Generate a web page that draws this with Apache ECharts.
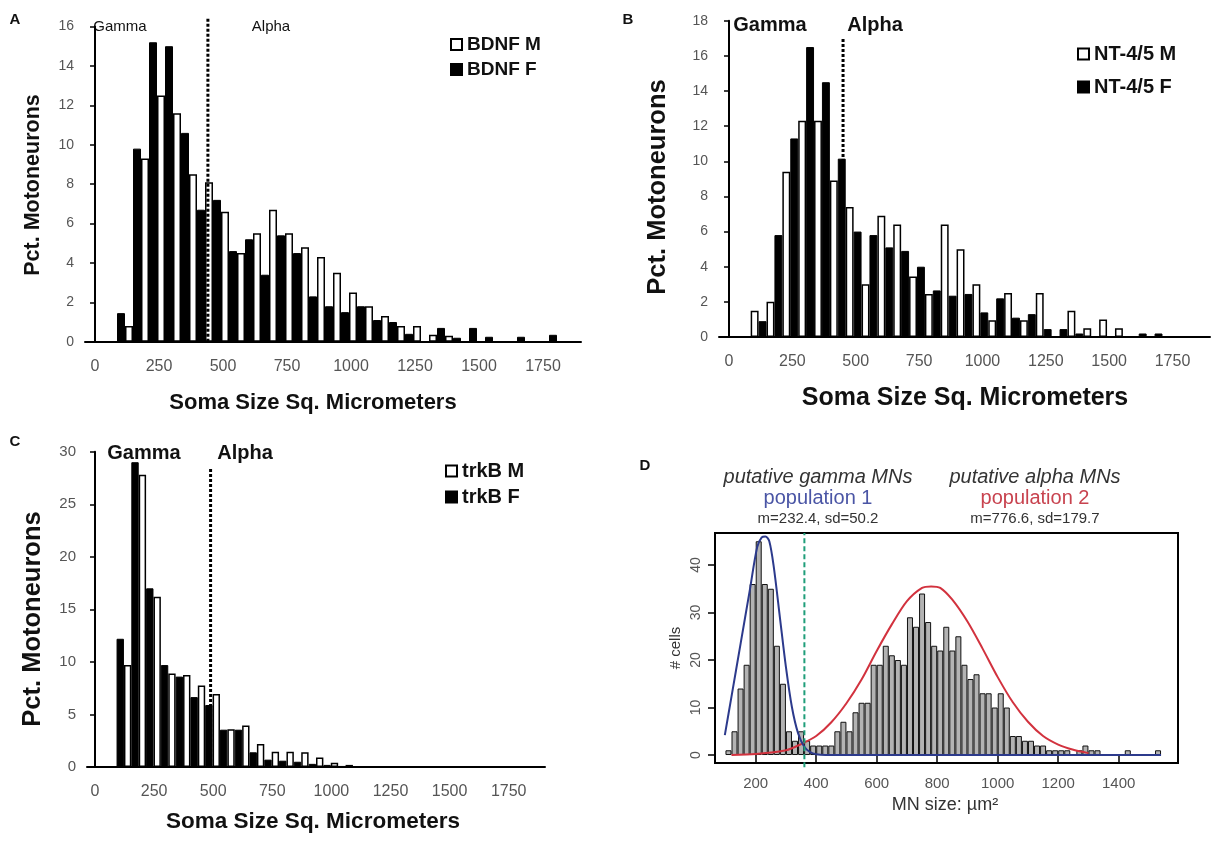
<!DOCTYPE html>
<html>
<head>
<meta charset="utf-8">
<title>Motoneuron soma size histograms</title>
<script src="https://cdn.jsdelivr.net/npm/echarts@6.0.0/dist/echarts.min.js"></script>
<style>
  html, body { margin: 0; padding: 0; background: #fff; }
  #chart { width: 1213px; height: 841px; }
</style>
</head>
<body>
<div id="chart"></div>
<script>
// ---- data ----
// panels A-C: 31 bins each, pairs of bars (M / F), values in percent
const binNames = ['b0','b1','b2','b3','b4','b5','b6','b7','b8','b9','b10','b11','b12','b13','b14','b15',
  'b16','b17','b18','b19','b20','b21','b22','b23','b24','b25','b26','b27','b28','b29','b30'];
const sizeTicks = [0, 250, 500, 750, 1000, 1250, 1500, 1750];

const bdnfF = [0,0,1.45,9.8,15.2,15.0,10.6,6.7,7.2,4.6,5.2,3.4,5.4,4.5,2.3,1.8,1.5,1.8,1.1,1.0,0.4,0,0.7,0.2,0.7,0.25,0,0.25,0,0.35,0];
const bdnfM = [0,0,0.8,9.3,12.5,11.6,8.5,8.1,6.6,4.5,5.5,6.7,5.5,4.8,4.3,3.5,2.5,1.8,1.3,0.8,0.8,0.35,0.3,0,0,0,0,0,0,0,0];

const ntM = [0,0,1.5,2.0,9.4,12.3,12.3,8.9,7.4,3.0,6.9,6.4,3.45,2.45,6.4,5.0,3.0,0.95,2.5,0.95,2.5,0,1.5,0.5,1.0,0.5,0,0,0,0,0];
const ntF = [0,0,0.9,5.8,11.3,16.5,14.5,10.15,6.0,5.8,5.1,4.9,4.0,2.65,2.35,2.45,1.4,2.2,1.1,1.3,0.45,0.45,0.2,0,0,0,0.2,0.2,0,0,0];

const trkF = [0,0,12.2,29.0,17.0,9.7,8.6,6.65,5.9,3.55,3.55,1.4,0.7,0.6,0.5,0.3,0.2,0.1,0,0,0,0,0,0,0,0,0,0,0,0,0];
const trkM = [0,0,9.7,27.8,16.2,8.9,8.75,7.75,6.95,3.6,3.95,2.2,1.45,1.45,1.4,0.9,0.4,0.2,0,0,0,0,0,0,0,0,0,0,0,0,0];

// gamma / alpha cut (soma size) and how high the dotted line is drawn
const cutA = [441, 16.4];
const cutB = [450, 17.0];
const cutC = [489, 28.4];

// panel D: 20 um^2 bins starting at 100
const dBinStart = 100, dBinWidth = 20;
const dCounts = [1,5,14,19,36,45,36,35,23,15, 5,3,5,3,2,2,2,2,5,7,
  5,9,11,11,19,19,23,21,20,19, 29,27,34,28,23,22,27,22,25,19,
  16,17,13,13,10,13,10,4,4,3, 3,2,2,1,1,1,1,0,1,2,
  1,1,0,0,0,0,1,0,0,0, 0,1];
const dTicksX = [200, 400, 600, 800, 1000, 1200, 1400];
const dTicksY = [0, 10, 20, 30, 40];
const gammaFit = [[98,4.2],[120,12.3],[150,23.4],[180,34.5],[205,43.8],[220,45.8],[232,46],[245,45],
  [260,39.5],[280,29],[300,18.5],[320,10],[340,4.6],[360,1.8],[380,0.6],[400,0.15],[430,0],[1540,0]];
const alphaFit = [[120,0],[200,0.2],[300,1.0],[350,2.3],[400,4],[450,6.9],[500,10.9],[550,15.9],[600,21.9],
  [650,27.5],[700,32.4],[750,35.2],[780,35.5],[810,35.2],[850,32.7],[900,28.1],[950,22.4],[1000,16.4],
  [1050,11.1],[1100,7.0],[1150,4.0],[1200,2.2],[1250,1.1],[1300,0.4]];
const dCut = 361;

// ---- chart ----
const FONT = "'Liberation Sans', Arial, sans-serif";
const grey = '#555';
const plain = v => String(v);

function catAxis(grid, tickEvery) {
  return {
    type: 'category', gridIndex: grid, data: binNames, boundaryGap: true,
    axisLine: { lineStyle: { color: '#000', width: 2 } },
    axisTick: { interval: tickEvery, length: 5, lineStyle: { color: '#000', width: 1.5 } },
    axisLabel: { show: false }
  };
}
function labelAxis(grid, min, max, margin) {
  return {
    type: 'value', gridIndex: grid, position: 'bottom', min: min, max: max,
    axisLine: { show: false }, axisTick: { show: false }, splitLine: { show: false },
    axisLabel: { customValues: sizeTicks, formatter: plain, color: grey, fontSize: 16, fontFamily: FONT, margin: margin }
  };
}
function pctAxis(grid, max, step, size) {
  return {
    type: 'value', gridIndex: grid, min: 0, max: max, interval: step,
    axisLine: { show: true, lineStyle: { color: '#000', width: 2 } },
    axisTick: { show: true, length: 5, lineStyle: { color: '#000', width: 1.5 } },
    splitLine: { show: false },
    axisLabel: { color: grey, fontSize: size, fontFamily: FONT, margin: 11 }
  };
}
function barPair(name1, data1, name2, data2, xi, yi) {
  const style = name => name.endsWith('F')
    ? { color: '#000', borderColor: '#000', borderWidth: 1 }
    : { color: '#fff', borderColor: '#000', borderWidth: 1.5 };
  return [name1, name2].map((n, k) => ({
    name: n, type: 'bar', xAxisIndex: xi, yAxisIndex: yi,
    data: k === 0 ? data1 : data2,
    barGap: '0%', barCategoryGap: '0%',
    itemStyle: style(n), silent: true
  }));
}
function cutLine(cut, xi, yi) {
  return {
    type: 'line', xAxisIndex: xi, yAxisIndex: yi, data: [[cut[0], 0], [cut[0], cut[1]]],
    symbol: 'none', clip: false, silent: true, z: 5,
    lineStyle: { color: '#000', width: 3, type: [3, 2] }
  };
}
function legendAt(names, left, top, size, gap) {
  return {
    data: names, left: left, top: top, orient: 'vertical', icon: 'rect',
    itemWidth: 11, itemHeight: 11, itemGap: gap, padding: 0, selectedMode: false,
    textStyle: { fontFamily: FONT, fontWeight: 'bold', fontSize: size, color: '#111' }
  };
}
function txt(x, y, s, size, opts) {
  opts = opts || {};
  return {
    type: 'text', x: x, y: y, rotation: opts.rot || 0, silent: true,
    style: {
      text: s, x: 0, y: 0, align: 'center', verticalAlign: 'middle',
      font: (opts.italic ? 'italic ' : '') + (opts.bold ? 'bold ' : '') + size + 'px ' + FONT,
      fill: opts.color || '#111'
    }
  };
}

const chart = echarts.init(document.getElementById('chart'), null, { renderer: 'canvas' });

const dBars = dCounts.map((c, i) => [dBinStart + i * dBinWidth + dBinWidth / 2, c]);

chart.setOption({
  animation: false,
  backgroundColor: '#fff',
  textStyle: { fontFamily: FONT },
  grid: [
    { left: 85, top: 26.5, width: 496, height: 315.2 },
    { left: 719, top: 20.7, width: 491, height: 316.3 },
    { left: 87, top: 451.7, width: 458, height: 315.3 },
    { left: 715, top: 533, width: 463, height: 230, show: true, borderColor: '#000', borderWidth: 2 }
  ],
  xAxis: [
    catAxis(0, 1), labelAxis(0, -39.1, 1898.4, 17),
    catAxis(1, 0), labelAxis(1, -39.5, 1898, 17),
    catAxis(2, 0), labelAxis(2, -33.8, 1903.6, 17),
    {
      type: 'value', gridIndex: 3, min: 65.5, max: 1596,
      axisLine: { show: false }, splitLine: { show: false },
      axisTick: { customValues: dTicksX, length: 7, lineStyle: { color: '#000', width: 1.5 } },
      axisLabel: { customValues: dTicksX, formatter: plain, color: grey, fontSize: 15, fontFamily: FONT, margin: 13 }
    }
  ],
  yAxis: [
    pctAxis(0, 16, 2, 14),
    pctAxis(1, 18, 2, 14),
    pctAxis(2, 30, 5, 15),
    {
      type: 'value', gridIndex: 3, min: -1.68, max: 46.74,
      axisLine: { show: false }, splitLine: { show: false },
      axisTick: { customValues: dTicksY, length: 7, lineStyle: { color: '#000', width: 1.5 } },
      axisLabel: { customValues: dTicksY, formatter: plain, rotate: 90, color: grey, fontSize: 14, fontFamily: FONT, margin: 12 }
    }
  ],
  legend: [
    legendAt(['BDNF M', 'BDNF F'], 450, 35, 19, 6),
    legendAt(['NT-4/5 M', 'NT-4/5 F'], 1077, 44, 20, 13),
    legendAt(['trkB M', 'trkB F'], 445, 461, 20, 6)
  ],
  series: [
    ...barPair('BDNF F', bdnfF, 'BDNF M', bdnfM, 0, 0),
    cutLine(cutA, 1, 0),
    ...barPair('NT-4/5 M', ntM, 'NT-4/5 F', ntF, 2, 1),
    cutLine(cutB, 3, 1),
    ...barPair('trkB F', trkF, 'trkB M', trkM, 4, 2),
    cutLine(cutC, 5, 2),
    {
      type: 'bar', xAxisIndex: 6, yAxisIndex: 3, data: dBars, barWidth: 6, silent: true,
      itemStyle: { color: '#b3b3b3', borderColor: '#111', borderWidth: 1 }
    },
    {
      type: 'line', xAxisIndex: 6, yAxisIndex: 3, data: [[dCut, -2.6], [dCut, 46.74]],
      symbol: 'none', clip: false, silent: true, z: 6,
      lineStyle: { color: '#1f9e7a', width: 2, type: [5, 3] }
    },
    {
      type: 'line', xAxisIndex: 6, yAxisIndex: 3, data: alphaFit, smooth: 0.3,
      symbol: 'none', silent: true, z: 4, lineStyle: { color: '#d2323e', width: 2 }
    },
    {
      type: 'line', xAxisIndex: 6, yAxisIndex: 3, data: gammaFit, smooth: 0.3,
      symbol: 'none', silent: true, z: 5, lineStyle: { color: '#2c3a8c', width: 2 }
    }
  ],
  graphic: [
    txt(15, 20, 'A', 15, { bold: true }),
    txt(628, 20, 'B', 15, { bold: true }),
    txt(15, 442, 'C', 15, { bold: true }),
    txt(645, 466, 'D', 15, { bold: true }),

    txt(120, 27, 'Gamma', 15),
    txt(271, 27, 'Alpha', 15),
    txt(770, 25, 'Gamma', 20, { bold: true }),
    txt(875, 25, 'Alpha', 20, { bold: true }),
    txt(144, 453, 'Gamma', 20, { bold: true }),
    txt(245, 453, 'Alpha', 20, { bold: true }),

    txt(33, 185, 'Pct. Motoneurons', 21.5, { bold: true, rot: Math.PI / 2 }),
    txt(313, 403, 'Soma Size Sq. Micrometers', 22, { bold: true }),
    txt(658, 187, 'Pct. Motoneurons', 25.5, { bold: true, rot: Math.PI / 2 }),
    txt(965, 398, 'Soma Size Sq. Micrometers', 25, { bold: true }),
    txt(33, 619, 'Pct. Motoneurons', 25.5, { bold: true, rot: Math.PI / 2 }),
    txt(313, 822, 'Soma Size Sq. Micrometers', 22.5, { bold: true }),

    txt(818, 477, 'putative gamma MNs', 20, { italic: true, color: '#333' }),
    txt(818, 498, 'population 1', 20, { color: '#4a55a5' }),
    txt(818, 519, 'm=232.4, sd=50.2', 15, { color: '#333' }),
    txt(1035, 477, 'putative alpha MNs', 20, { italic: true, color: '#333' }),
    txt(1035, 498, 'population 2', 20, { color: '#c8434f' }),
    txt(1035, 519, 'm=776.6, sd=179.7', 15, { color: '#333' }),
    txt(676, 648, '# cells', 15, { color: '#333', rot: Math.PI / 2 }),
    txt(945, 805, 'MN size: µm²', 18, { color: '#333' })
  ]
});
</script>
</body>
</html>
